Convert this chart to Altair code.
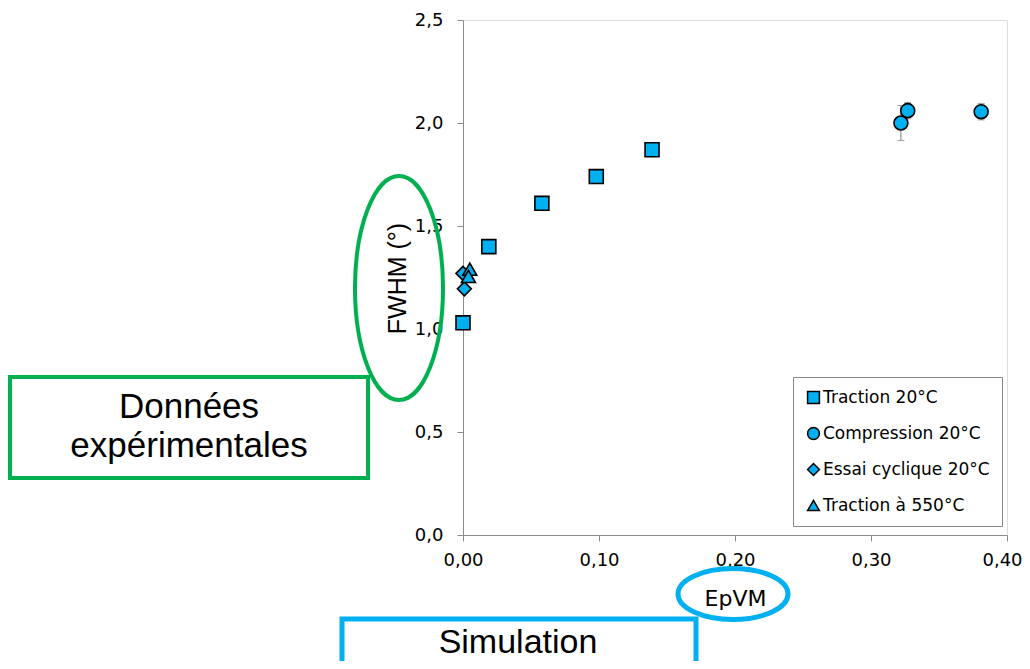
import altair as alt
import pandas as pd

# ---------------- data ----------------
series_names = ["Traction 20°C", "Compression 20°C", "Essai cyclique 20°C", "Traction à 550°C"]

traction_x = [0.000, 0.019, 0.058, 0.098, 0.139]
traction_y = [1.03, 1.40, 1.61, 1.74, 1.87]

compression_x = [0.322, 0.327, 0.381]
compression_y = [2.00, 2.06, 2.055]
compression_lo = [1.915, 2.02, 2.015]
compression_hi = [2.085, 2.10, 2.095]

cyclic_x = [0.000, 0.001]
cyclic_y = [1.27, 1.195]

traction550_x = [0.005, 0.004]
traction550_y = [1.29, 1.255]

x_ticks = [0.0, 0.1, 0.2, 0.3, 0.4]
y_ticks = [0.0, 0.5, 1.0, 1.5, 2.0, 2.5]

rows = []
for xs, ys, name in [(traction_x, traction_y, series_names[0]),
                     (compression_x, compression_y, series_names[1]),
                     (cyclic_x, cyclic_y, series_names[2]),
                     (traction550_x, traction550_y, series_names[3])]:
    for a, b in zip(xs, ys):
        rows.append({"EpVM": a, "FWHM": b, "Série": name})
points_df = pd.DataFrame(rows)

err_df = pd.DataFrame({"EpVM": compression_x, "lo": compression_lo, "hi": compression_hi})

BLUE = "#00B0F0"
GREEN = "#00B050"
AXIS_GRAY = "#8c8c8c"

x_scale = alt.Scale(domain=[0, 0.4], nice=False, zero=False)
y_scale = alt.Scale(domain=[0, 2.5], nice=False)

x_axis = alt.Axis(values=x_ticks, grid=False, title="EpVM", labelFlush=False,
                  labelExpr="replace(format(datum.value, '.2f'), '.', ',')",
                  labelOffset={"condition": {"test": "datum.value >= 0.4", "value": -5},
                               "value": 0},
                  labelFont="DejaVu Sans", labelFontSize=18, labelColor="black",
                  labelPadding=10, tickSize=6, tickColor=AXIS_GRAY, domainColor=AXIS_GRAY,
                  titleFont="DejaVu Sans", titleFontSize=22, titleFontWeight="normal",
                  titleColor="black", titleX=272, titleY=70, titleBaseline="alphabetic",
                  titleAlign="center")
y_axis = alt.Axis(values=y_ticks, grid=False, title="FWHM (°)", labelFlush=False,
                  labelExpr="replace(format(datum.value, '.1f'), '.', ',')",
                  labelFont="DejaVu Sans", labelFontSize=18, labelColor="black",
                  labelPadding=14, tickSize=6, tickColor=AXIS_GRAY, domainColor=AXIS_GRAY,
                  titleFont="Liberation Sans", titleFontSize=25, titleFontWeight="normal",
                  titleColor="black", titleAngle=270, titleX=-58, titleY=258,
                  titleBaseline="alphabetic", titleAlign="center")

legend = alt.Legend(title=None, orient="none", legendX=330, legendY=357,
                    labelFont="DejaVu Sans", labelFontSize=17,
                    labelColor="black", symbolSize=140,
                    symbolFillColor=BLUE, symbolStrokeWidth=1.5, symbolOpacity=1,
                    rowPadding=17, padding=12,
                    labelOffset=1, strokeColor="#888888",
                    fillColor="white", labelLimit=300)

# error bars
err_rule = alt.Chart(err_df).mark_rule(color="#7f7f7f", strokeWidth=1).encode(
    x=alt.X("EpVM:Q", scale=x_scale, axis=x_axis),
    y=alt.Y("lo:Q", scale=y_scale, axis=y_axis),
    y2="hi:Q",
)
err_cap_lo = alt.Chart(err_df).mark_tick(orient="horizontal", size=7, thickness=1,
                                         color="#7f7f7f").encode(
    x=alt.X("EpVM:Q", scale=x_scale), y=alt.Y("lo:Q", scale=y_scale))
err_cap_hi = alt.Chart(err_df).mark_tick(orient="horizontal", size=7, thickness=1,
                                         color="#7f7f7f").encode(
    x=alt.X("EpVM:Q", scale=x_scale), y=alt.Y("hi:Q", scale=y_scale))

points = alt.Chart(points_df).mark_point(
    filled=False, fill=BLUE, strokeWidth=1.6, opacity=1,
    fillOpacity=1, strokeOpacity=1, size=195
).encode(
    x=alt.X("EpVM:Q", scale=x_scale, axis=x_axis),
    y=alt.Y("FWHM:Q", scale=y_scale, axis=y_axis),
    shape=alt.Shape("Série:N",
                    scale=alt.Scale(domain=series_names,
                                    range=["square", "circle", "diamond", "triangle-up"]),
                    legend=legend),
    stroke=alt.Stroke("Série:N",
                      scale=alt.Scale(domain=series_names,
                                      range=["black", "black", "black", "black"]),
                      legend=legend),
)

# ---------------- annotations ----------------
k = 0.5523


def ellipse_path(rx, ry):
    return (f"M {rx},0 C {rx},{k*ry} {k*rx},{ry} 0,{ry} "
            f"C {-k*rx},{ry} {-rx},{k*ry} {-rx},0 "
            f"C {-rx},{-k*ry} {-k*rx},{-ry} 0,{-ry} "
            f"C {k*rx},{-ry} {rx},{-k*ry} {rx},0 Z")


anno_df = pd.DataFrame({"a": [0]})

green_ellipse = alt.Chart(anno_df).mark_point(
    shape=ellipse_path(0.393, 1.0), size=224 * 224, filled=False,
    stroke=GREEN, strokeWidth=4, opacity=1
).encode(x=alt.value(-64), y=alt.value(268))

green_box = alt.Chart(anno_df).mark_rect(
    fill=None, stroke=GREEN, strokeWidth=4
).encode(x=alt.value(-453), x2=alt.value(-95), y=alt.value(357), y2=alt.value(458))

green_text = alt.Chart(pd.DataFrame({"t": ["Données", "expérimentales"],
                                     "yy": [398, 437]})).mark_text(
    font="Liberation Sans", fontSize=35, color="black", align="center",
    baseline="alphabetic"
).encode(text="t:N", x=alt.value(-274), y=alt.Y("yy:Q", scale=None))

blue_ellipse = alt.Chart(anno_df).mark_point(
    shape=ellipse_path(1.0, 0.4636), size=110 * 110, filled=False,
    stroke=BLUE, strokeWidth=5, opacity=1
).encode(x=alt.value(270), y=alt.value(574))

blue_box = alt.Chart(anno_df).mark_rect(
    fill=None, stroke=BLUE, strokeWidth=5
).encode(x=alt.value(-121), x2=alt.value(233), y=alt.value(599), y2=alt.value(720))

blue_text = alt.Chart(pd.DataFrame({"t": ["Simulation"]})).mark_text(
    font="Liberation Sans", fontSize=34, color="black", align="center",
    baseline="alphabetic"
).encode(text="t:N", x=alt.value(55), y=alt.value(633))

chart = alt.layer(
    err_rule, err_cap_lo, err_cap_hi, points,
    green_ellipse, green_box, green_text, blue_ellipse, blue_box, blue_text
).resolve_scale(y="shared").properties(
    width=544, height=515,
    autosize=alt.AutoSizeParams(type="none"),
    padding={"left": 455, "top": 12, "right": 15, "bottom": 126},
).configure_view(stroke="#999999", strokeWidth=1).configure(background="white")

chart.save("out.html", embed_options={"renderer": "svg", "actions": False})
